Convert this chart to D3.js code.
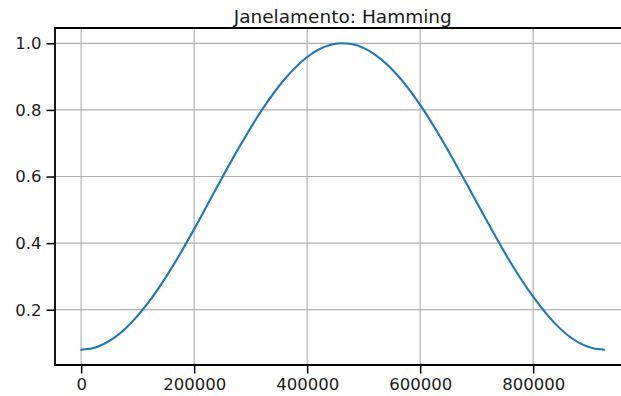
<!DOCTYPE html>
<html>
<head>
<meta charset="utf-8">
<script src="https://cdn.jsdelivr.net/npm/d3@7"></script>
<style>
  html, body { margin: 0; padding: 0; background: #fff; }
  svg { display: block; font-family: "DejaVu Sans", sans-serif; }
</style>
</head>
<body>
<script>
// Hamming window sampled along the signal (sample index -> weight)
const sampleIndex = [0, 20000, 40000, 80000, 120000, 160000, 200000, 240000, 280000, 320000,
  360000, 400000, 440000, 460000, 480000, 520000, 560000, 600000, 640000, 680000,
  720000, 760000, 800000, 840000, 880000, 906000, 926000];
const windowWeight = [0.080, 0.084, 0.097, 0.146, 0.224, 0.325, 0.442, 0.567, 0.689, 0.800,
  0.892, 0.959, 0.995, 1.000, 0.997, 0.966, 0.904, 0.815, 0.706, 0.585,
  0.461, 0.342, 0.239, 0.156, 0.102, 0.084, 0.080];
const xTicks = [0, 200000, 400000, 600000, 800000];
const yTicks = [0.2, 0.4, 0.6, 0.8, 1.0];
const title = "Janelamento: Hamming";

const W = 621, H = 396;
const plot = { left: 55, right: 630.5, top: 28, bottom: 365 };

const svg = d3.select("body").append("svg").attr("width", W).attr("height", H);

// matplotlib-style 5% margins around the data
const xMin = d3.min(sampleIndex), xMax = d3.max(sampleIndex);
const yMin = d3.min(windowWeight), yMax = d3.max(windowWeight);
const xPad = (xMax - xMin) * 0.05, yPad = (yMax - yMin) * 0.05;

const x = d3.scaleLinear().domain([xMin - xPad, xMax + xPad]).range([plot.left, plot.right]);
const y = d3.scaleLinear().domain([yMin - yPad, yMax + yPad]).range([plot.bottom, plot.top]);

// grid
const grid = svg.append("g").attr("stroke", "#b0b0b0").attr("stroke-width", 1.2);
grid.selectAll("line.gx").data(xTicks).join("line")
  .attr("x1", d => x(d)).attr("x2", d => x(d))
  .attr("y1", plot.top).attr("y2", plot.bottom);
grid.selectAll("line.gy").data(yTicks).join("line")
  .attr("x1", plot.left).attr("x2", plot.right)
  .attr("y1", d => y(d)).attr("y2", d => y(d));

// curve
const pts = sampleIndex.map((d, i) => [d, windowWeight[i]]);
svg.append("path")
  .datum(pts)
  .attr("fill", "none")
  .attr("stroke", "#1f77b4")
  .attr("stroke-width", 2.1)
  .attr("stroke-linecap", "round")
  .attr("d", d3.line().x(d => x(d[0])).y(d => y(d[1])).curve(d3.curveMonotoneX));

// axes
const xAxis = svg.append("g")
  .attr("transform", `translate(0,${plot.bottom})`)
  .call(d3.axisBottom(x).tickValues(xTicks).tickFormat(d3.format("d")).tickSizeInner(8.5).tickSizeOuter(0).tickPadding(5));
const yAxis = svg.append("g")
  .attr("transform", `translate(${plot.left},0)`)
  .call(d3.axisLeft(y).tickValues(yTicks).tickFormat(d3.format(".1f")).tickSizeInner(8.5).tickSizeOuter(0).tickPadding(5));

[xAxis, yAxis].forEach(g => {
  g.select(".domain").remove();
  g.selectAll(".tick line").attr("stroke", "#000").attr("stroke-width", 1.5);
  g.selectAll(".tick text")
    .attr("fill", "#1a1a1a")
    .style("font-family", "'DejaVu Sans', sans-serif")
    .style("font-size", "16.5px");
});

// spines: left, bottom and top
const spine = svg.append("g").attr("stroke", "#000").attr("stroke-width", 1.8).attr("fill", "none");
spine.append("line").attr("x1", plot.left).attr("x2", plot.left).attr("y1", plot.top).attr("y2", plot.bottom + 0.9);
spine.append("line").attr("x1", plot.left - 0.9).attr("x2", plot.right).attr("y1", plot.bottom).attr("y2", plot.bottom);
spine.append("line").attr("x1", plot.left - 0.9).attr("x2", plot.right).attr("y1", plot.top).attr("y2", plot.top);
spine.append("line").attr("x1", plot.right).attr("x2", plot.right).attr("y1", plot.top).attr("y2", plot.bottom);

// title
svg.append("text")
  .attr("x", (plot.left + plot.right) / 2)
  .attr("y", 22.7)
  .attr("text-anchor", "middle")
  .attr("fill", "#1a1a1a")
  .style("font-size", "18.5px")
  .text(title);
</script>
</body>
</html>
